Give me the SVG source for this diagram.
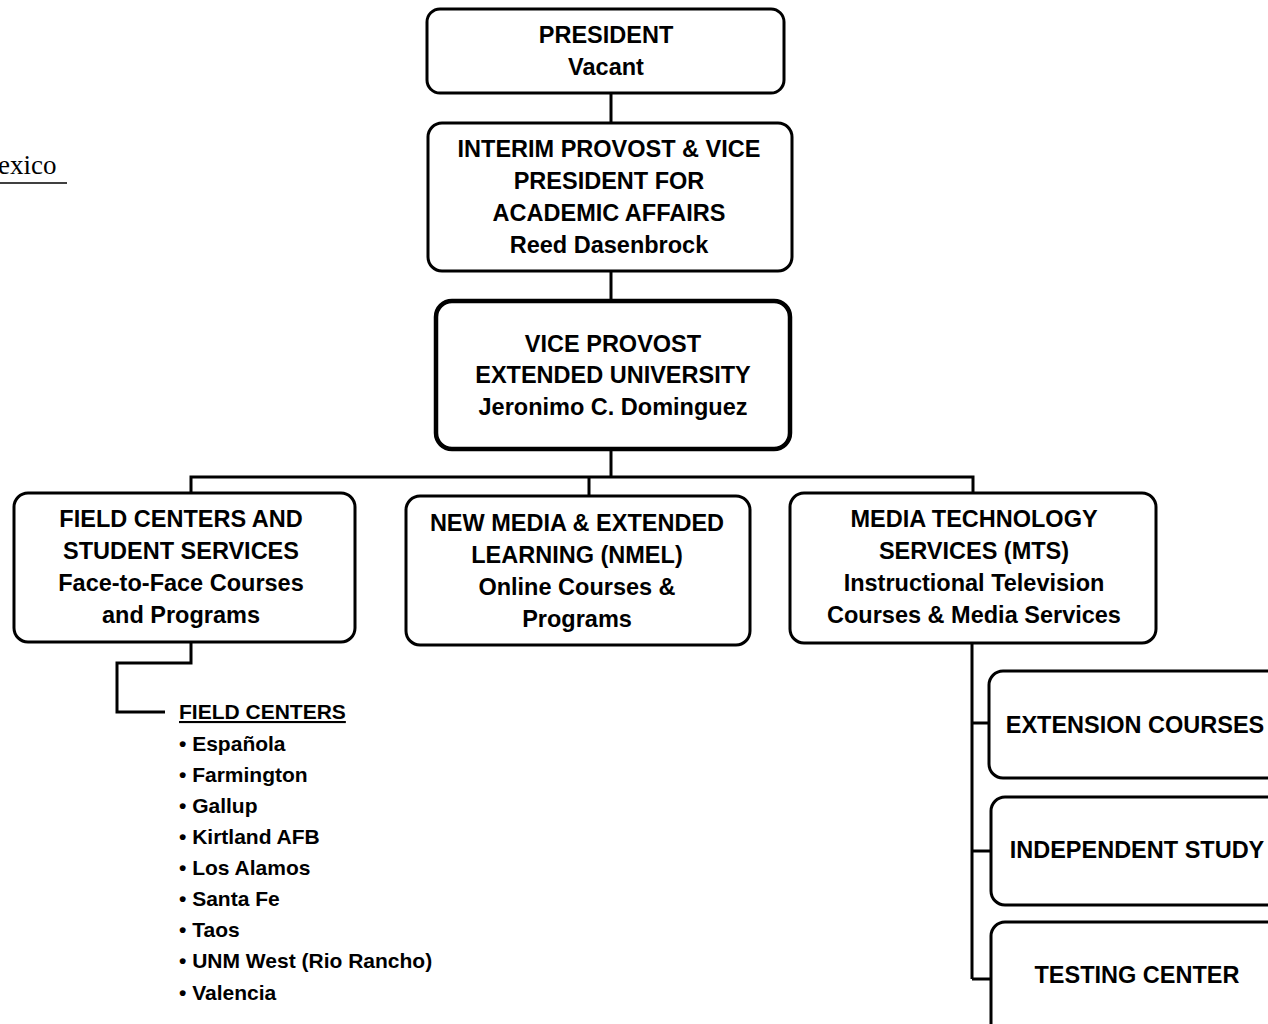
<svg xmlns="http://www.w3.org/2000/svg" width="1268" height="1024" viewBox="0 0 1268 1024">
<style>
.box{fill:#fff;stroke:#000;stroke-width:3}
.thick{stroke-width:4.5}
.t{font-family:"Liberation Sans",Arial,sans-serif;font-weight:bold;font-size:23.5px;text-anchor:middle;fill:#000}
.l{font-family:"Liberation Sans",Arial,sans-serif;font-weight:bold;font-size:21px;fill:#000}
.c{fill:none;stroke:#000;stroke-width:3}
</style>
<rect width="1268" height="1024" fill="#fff"/>
<g id="header">
<text x="-2" y="174" font-family="Liberation Serif,'Times New Roman',serif" font-size="27" fill="#000">exico</text>
<line x1="0" y1="183" x2="67" y2="183" stroke="#000" stroke-width="1.5"/>
</g>
<g id="connectors">
<line class="c" x1="611" y1="93" x2="611" y2="123"/>
<line class="c" x1="611" y1="271" x2="611" y2="300"/>
<line class="c" x1="611" y1="450" x2="611" y2="477"/>
<polyline class="c" points="191,493 191,477 973,477 973,493"/>
<line class="c" x1="589" y1="477" x2="589" y2="496"/>
<polyline class="c" points="191,642 191,663 117,663 117,712 165,712"/>
<line class="c" x1="972" y1="643" x2="972" y2="979"/>
<line class="c" x1="972" y1="723" x2="989" y2="723"/>
<line class="c" x1="972" y1="851" x2="991" y2="851"/>
<line class="c" x1="972" y1="979" x2="991" y2="979"/>
</g>
<g id="president">
<rect class="box" x="427" y="9" width="357" height="84" rx="13"/>
<text class="t" x="606" y="43">PRESIDENT</text>
<text class="t" x="606" y="75">Vacant</text>
</g>
<g id="provost">
<rect class="box" x="428" y="123" width="364" height="148" rx="14"/>
<text class="t" x="609" y="157">INTERIM PROVOST &amp; VICE</text>
<text class="t" x="609" y="189">PRESIDENT FOR</text>
<text class="t" x="609" y="221">ACADEMIC AFFAIRS</text>
<text class="t" x="609" y="253">Reed Dasenbrock</text>
</g>
<g id="vice-provost">
<rect class="box thick" x="436" y="301" width="354" height="148" rx="16"/>
<text class="t" x="613" y="352">VICE PROVOST</text>
<text class="t" x="613" y="383">EXTENDED UNIVERSITY</text>
<text class="t" x="613" y="415">Jeronimo C. Dominguez</text>
</g>
<g id="field-centers">
<rect class="box" x="14" y="493" width="341" height="149" rx="14"/>
<text class="t" x="181" y="527">FIELD CENTERS AND</text>
<text class="t" x="181" y="559">STUDENT SERVICES</text>
<text class="t" x="181" y="591">Face-to-Face Courses</text>
<text class="t" x="181" y="623">and Programs</text>
</g>
<g id="nmel">
<rect class="box" x="406" y="496" width="344" height="149" rx="14"/>
<text class="t" x="577" y="531">NEW MEDIA &amp; EXTENDED</text>
<text class="t" x="577" y="563">LEARNING (NMEL)</text>
<text class="t" x="577" y="595">Online Courses &amp;</text>
<text class="t" x="577" y="627">Programs</text>
</g>
<g id="mts">
<rect class="box" x="790" y="493" width="366" height="150" rx="14"/>
<text class="t" x="974" y="527">MEDIA TECHNOLOGY</text>
<text class="t" x="974" y="559">SERVICES (MTS)</text>
<text class="t" x="974" y="591">Instructional Television</text>
<text class="t" x="974" y="623">Courses &amp; Media Services</text>
</g>
<g id="extension">
<rect class="box" x="989" y="671" width="310" height="107" rx="14"/>
<text class="t" x="1135" y="733">EXTENSION COURSES</text>
</g>
<g id="independent">
<rect class="box" x="991" y="797" width="310" height="108" rx="14"/>
<text class="t" x="1137" y="858">INDEPENDENT STUDY</text>
</g>
<g id="testing">
<rect class="box" x="991" y="922" width="310" height="130" rx="14"/>
<text class="t" x="1137" y="983">TESTING CENTER</text>
</g>
<g id="field-list">
<text class="l" x="179" y="719" text-decoration="underline">FIELD CENTERS</text>
<text class="l" x="179" y="751">• Española</text>
<text class="l" x="179" y="782">• Farmington</text>
<text class="l" x="179" y="813">• Gallup</text>
<text class="l" x="179" y="844">• Kirtland AFB</text>
<text class="l" x="179" y="875">• Los Alamos</text>
<text class="l" x="179" y="906">• Santa Fe</text>
<text class="l" x="179" y="937">• Taos</text>
<text class="l" x="179" y="968">• UNM West (Rio Rancho)</text>
<text class="l" x="179" y="1000">• Valencia</text>
</g>
</svg>
